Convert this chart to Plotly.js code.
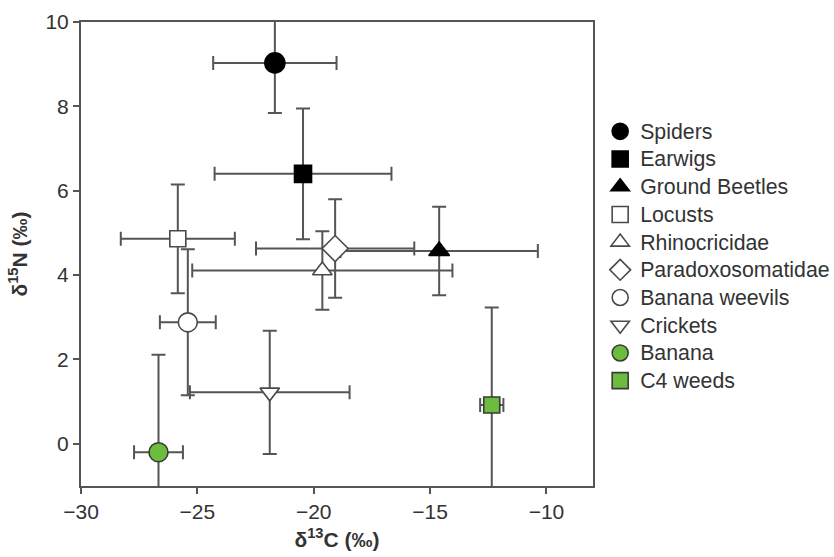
<!DOCTYPE html>
<html>
<head>
<meta charset="utf-8">
<script src="https://cdn.plot.ly/plotly-3.0.1.min.js"></script>
<style>html,body{margin:0;padding:0;background:#fff;}#chart{width:834px;height:557px;}</style>
</head>
<body>
<div id="chart"></div>
<script>
// Data
const groups = ["Spiders", "Earwigs", "Ground Beetles", "Locusts", "Rhinocricidae",
                "Paradoxosomatidae", "Banana weevils", "Crickets", "Banana", "C4 weeds"];
const d13C = [-21.67, -20.46, -14.61, -25.84, -19.63, -19.08, -25.41, -21.89, -26.67, -12.35];
const d15N = [9.03, 6.40, 4.57, 4.86, 4.11, 4.63, 2.88, 1.22, -0.20, 0.92];
const d13C_err = [2.65, 3.80, 4.24, 2.45, 5.59, 3.40, 1.20, 3.43, 1.05, 0.50];
const d15N_err = [1.19, 1.55, 1.05, 1.29, 0.93, 1.17, 1.73, 1.46, 2.31, 2.31];
const xTicks = [-30, -25, -20, -15, -10];
const yTicks = [0, 2, 4, 6, 8, 10];

// Styles
const symbols = ["circle", "square", "triangle-up", "square", "triangle-up",
                 "diamond", "circle", "triangle-down", "circle", "square"];
const fills = ["#000000", "#000000", "#000000", "#ffffff", "#ffffff",
               "#ffffff", "#ffffff", "#ffffff", "#6cbd3e", "#6cbd3e"];
const outlines = ["#000000", "#000000", "#000000", "#4a4a4a", "#4a4a4a",
                  "#4a4a4a", "#4a4a4a", "#4a4a4a", "#3a3a3a", "#3a3a3a"];
const sizes = [20, 17, 18, 16, 17, 20, 19, 17, 19, 16];
const FONT = "Liberation Sans, Arial, sans-serif";

const errColor = "#555555";
const traces = groups.map((g, i) => ({
  type: "scatter",
  mode: "markers",
  name: '<span style="font-size:21.3px">' + g + '</span>',
  x: [d13C[i]],
  y: [d15N[i]],
  error_x: {type: "data", array: [d13C_err[i]], color: errColor, thickness: 2, width: 7},
  error_y: {type: "data", array: [d15N_err[i]], color: errColor, thickness: 2, width: 7},
  marker: {symbol: symbols[i], size: sizes[i], color: fills[i],
           line: {color: outlines[i], width: 1.6}}
}));

const axisCommon = {
  showline: true, mirror: true, linecolor: "#555555", linewidth: 2,
  ticks: "outside", ticklen: 6, tickwidth: 2, tickcolor: "#555555",
  showgrid: false, zeroline: false,
  tickfont: {family: FONT, size: 21, color: "#333333"}
};

const layout = {
  width: 834, height: 557,
  margin: {l: 81, r: 241, t: 22, b: 71, autoexpand: false},
  paper_bgcolor: "#ffffff", plot_bgcolor: "#ffffff",
  showlegend: true,
  legend: {x: 1.014, xanchor: "left", y: 0.805, yanchor: "top",
           font: {family: FONT, size: 19, color: "#333333"},
           bgcolor: "rgba(0,0,0,0)", borderwidth: 0, itemsizing: "trace"},
  xaxis: Object.assign({}, axisCommon, {
    range: [-30, -8], tickvals: xTicks,
    title: {text: "<b>δ<sup>13</sup>C (‰)</b>", standoff: 10,
            font: {family: FONT, size: 21, color: "#333333"}}
  }),
  yaxis: Object.assign({}, axisCommon, {
    range: [-1, 10], tickvals: yTicks,
    title: {text: "<b>δ<sup>15</sup>N (‰)</b>", standoff: 12,
            font: {family: FONT, size: 21, color: "#333333"}}
  })
};

Plotly.newPlot("chart", traces, layout, {staticPlot: true, displayModeBar: false});
</script>
</body>
</html>
